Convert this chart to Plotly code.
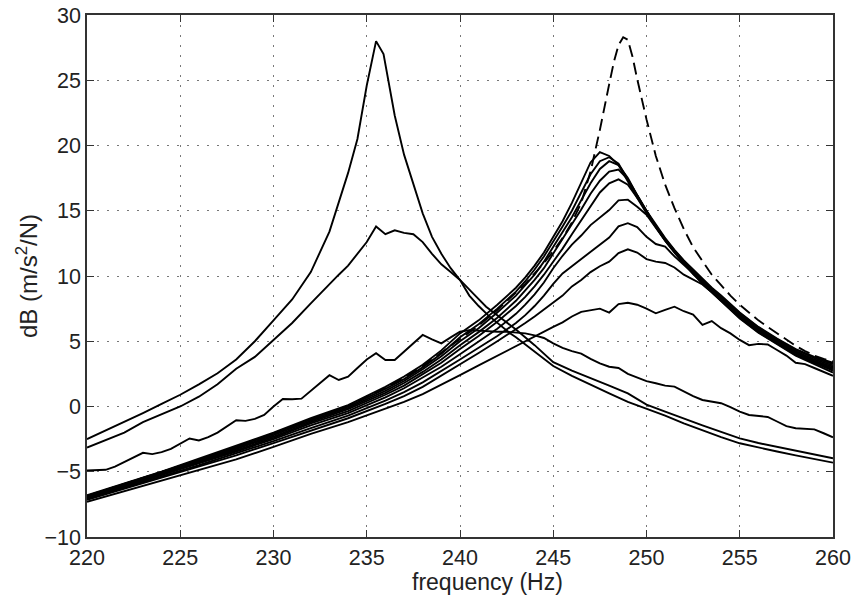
import plotly.graph_objects as go

# ---------------- data ----------------
# first resonance family (peak near 235.5 Hz)
freq_A1 = [220, 221, 222, 223, 224, 225, 226, 227, 228, 229, 230, 231, 232, 233, 234, 234.5, 235, 235.5, 235.9,
           236.5, 237, 237.5, 238, 238.5, 239, 239.5, 240, 240.5, 241, 241.5, 242, 242.7, 243, 244, 245, 246, 247,
           248, 249, 250, 251, 252, 253, 254, 255, 256, 257, 258, 259, 260]
db_A1 = [-2.5, -1.85, -1.2, -0.5, 0.2, 0.9, 1.7, 2.55, 3.6, 5.0, 6.6, 8.2, 10.3, 13.4, 17.9, 20.5, 24.6, 28.0, 27.0,
         22.3, 19.3, 17.0, 14.8, 13.0, 11.7, 10.6, 9.7, 8.5, 7.7, 7.0, 6.4, 5.6, 5.3, 4.2, 3.1, 2.35, 1.65,
         1.0, 0.35, -0.15, -0.7, -1.3, -1.85, -2.35, -2.82, -3.15, -3.45, -3.75, -4.05, -4.3]

freq_A2 = [220, 221, 222, 223, 224, 225, 226, 227, 228, 229, 230, 231, 232, 233, 233.5, 234, 234.5, 235, 235.5, 236,
           236.5, 237, 237.5, 238, 238.5, 239, 239.5, 240, 240.7, 241.4, 242, 243, 244, 245, 246, 247, 248, 249,
           250, 251, 252, 253, 254, 255, 256, 257, 258, 259, 260]
db_A2 = [-3.15, -2.6, -2.0, -1.2, -0.6, 0.0, 0.75, 1.7, 2.9, 3.8, 5.1, 6.4, 7.9, 9.4, 10.1, 10.8, 11.7, 12.6, 13.8, 13.2,
         13.5, 13.3, 13.2, 12.6, 11.7, 10.9, 10.3, 9.7, 8.67, 7.65, 7.0, 5.9, 4.7, 3.4, 2.75, 2.2, 1.6, 1.0,
         0.15, -0.4, -0.95, -1.45, -1.95, -2.44, -2.8, -3.1, -3.4, -3.7, -3.97]

freq_A3 = [220, 220.5, 221, 221.5, 222, 222.5, 223, 223.5, 224, 224.5, 225, 225.5, 226, 226.5, 227, 227.5, 228, 228.5,
           229, 229.5, 230, 230.5, 231, 231.5, 232, 232.5, 233, 233.5, 234, 234.5, 235, 235.5, 236, 236.5, 237, 237.5,
           238, 238.5, 239, 239.5, 240, 240.5, 241, 241.5, 242, 242.5, 243, 243.5, 244, 244.5, 245, 245.5, 246, 246.5,
           247, 247.5, 248, 248.5, 249, 249.5, 250, 250.5, 251, 251.5, 252, 252.5, 253, 253.5, 254, 254.5, 255, 255.5,
           256, 256.5, 257, 257.5, 258, 258.5, 259, 259.5, 260]
db_A3 = [-4.9, -4.9, -4.85, -4.6, -4.25, -3.9, -3.55, -3.65, -3.5, -3.25, -2.85, -2.45, -2.6, -2.35, -2.0, -1.55, -1.05, -1.1,
         -0.95, -0.65, 0.0, 0.57, 0.55, 0.6, 1.2, 1.8, 2.4, 2.03, 2.28, 2.95, 3.6, 4.08, 3.56, 3.56, 4.2, 4.9,
         5.48, 5.15, 4.84, 5.3, 5.73, 5.85, 5.8, 5.73, 5.73, 5.73, 5.65, 5.6, 5.45, 5.25, 4.84, 4.5, 4.25, 4.05,
         3.65, 3.3, 3.05, 2.95, 2.5, 2.2, 1.95, 1.78, 1.6, 1.52, 1.15, 0.8, 0.5, 0.4, 0.25, -0.05, -0.4, -0.65,
         -0.7, -0.8, -1.15, -1.5, -1.67, -1.72, -1.75, -2.05, -2.36]

# second resonance family (peaks 247.5 .. 249 Hz), common frequency grid
freq_B = [220, 222, 224, 226, 228, 230, 232, 234, 236, 237, 238, 239, 240, 241, 242, 243, 243.5, 244, 244.5, 245,
          245.5, 246, 246.5, 247, 247.5, 248, 248.5, 249, 249.5, 250, 250.5, 251, 251.5, 252, 252.5, 253, 253.5,
          254, 255, 256, 257, 258, 259, 260]
db_B1 = [-6.8, -5.9, -5.0, -4.0, -3.0, -2.0, -0.9, 0.1, 1.5, 2.3, 3.2, 4.3, 5.6, 6.6, 7.8, 9.1, 9.9, 10.8, 11.8, 13.0,
         14.2, 15.6, 17.1, 18.7, 19.5, 19.2, 18.5, 17.3, 16.0, 15.0, 13.9, 12.9, 12.0, 11.2, 10.5, 9.8, 9.1,
         8.5, 7.2, 6.1, 5.2, 4.4, 3.8, 3.35]
db_B2 = [-6.85, -5.95, -5.05, -4.1, -3.1, -2.1, -1.0, 0.0, 1.35, 2.1, 3.0, 4.05, 5.3, 6.3, 7.5, 8.8, 9.6, 10.5, 11.5, 12.6,
         13.8, 15.0, 16.4, 17.8, 18.8, 19.1, 18.6, 17.4, 16.1, 14.95, 13.85, 12.85, 11.95, 11.15, 10.4, 9.7, 9.05,
         8.45, 7.15, 6.05, 5.15, 4.35, 3.7, 3.25]
db_B3 = [-6.9, -6.0, -5.1, -4.15, -3.2, -2.2, -1.1, -0.1, 1.2, 1.95, 2.85, 3.85, 5.0, 6.0, 7.2, 8.5, 9.3, 10.1, 11.1, 12.2,
         13.3, 14.5, 15.8, 17.1, 18.2, 18.8, 18.5, 17.5, 16.2, 15.0, 13.8, 12.8, 11.9, 11.1, 10.3, 9.6, 8.95,
         8.35, 7.05, 5.95, 5.05, 4.25, 3.6, 3.15]
db_B4 = [-6.95, -6.05, -5.15, -4.2, -3.25, -2.3, -1.2, -0.2, 1.05, 1.8, 2.65, 3.6, 4.7, 5.7, 6.8, 8.1, 8.9, 9.7, 10.6, 11.7,
         12.8, 13.9, 15.1, 16.3, 17.3, 18.0, 18.15, 17.4, 16.2, 14.9, 13.75, 12.75, 11.85, 11.0, 10.25, 9.55, 8.9,
         8.3, 7.0, 5.9, 5.0, 4.15, 3.5, 3.05]
db_B5 = [-7.0, -6.1, -5.2, -4.3, -3.35, -2.4, -1.3, -0.35, 0.9, 1.6, 2.45, 3.35, 4.4, 5.4, 6.5, 7.7, 8.4, 9.2, 10.1, 11.1,
         12.1, 13.2, 14.3, 15.4, 16.4, 17.1, 17.4, 17.0, 16.0, 14.8, 13.7, 12.7, 11.8, 10.95, 10.2, 9.5, 8.85,
         8.25, 6.95, 5.85, 4.95, 4.1, 3.45, 2.95]
db_B6 = [-7.05, -6.15, -5.3, -4.4, -3.45, -2.5, -1.45, -0.5, 0.7, 1.4, 2.2, 3.05, 4.0, 4.95, 5.95, 7.1, 7.8, 8.6, 9.5, 10.6,
         11.55, 12.4, 13.1, 13.9, 14.5, 15.05, 15.8, 15.85, 15.3, 14.7, 13.7, 12.7, 11.8, 10.95, 10.15, 9.45, 8.8,
         8.2, 6.85, 5.75, 4.85, 4.0, 3.4, 2.85]
db_B7 = [-7.1, -6.2, -5.35, -4.5, -3.6, -2.65, -1.65, -0.7, 0.45, 1.1, 1.85, 2.7, 3.6, 4.5, 5.4, 6.4, 7.0, 7.7, 8.5, 9.4,
         10.2, 10.75, 11.3, 11.85, 12.4, 12.95, 13.8, 14.05, 13.75, 13.0, 12.45, 12.25, 11.5, 10.85, 10.2, 9.4, 8.75,
         8.15, 6.8, 5.7, 4.8, 3.95, 3.35, 2.75]
db_B8 = [-7.15, -6.3, -5.45, -4.6, -3.75, -2.8, -1.85, -0.9, 0.2, 0.8, 1.5, 2.35, 3.25, 4.1, 5.0, 5.9, 6.4, 6.9, 7.45, 8.0,
         8.5, 9.2, 9.7, 10.3, 10.75, 11.1, 11.75, 12.05, 11.8, 11.3, 11.1, 11.0, 10.65, 10.1, 9.75, 9.35, 8.75,
         8.1, 6.75, 5.65, 4.75, 3.9, 3.25, 2.6]

freq_B9 = [220, 222, 224, 226, 228, 230, 232, 234, 236, 237, 238, 239, 240, 241, 242, 243, 244, 245, 245.5, 246, 246.5,
           247, 247.5, 248, 248.5, 249, 249.5, 250, 250.5, 251, 251.5, 252, 252.5, 253, 253.5, 254, 254.5, 255,
           255.5, 256, 256.5, 257, 257.5, 258, 258.5, 259, 259.5, 260]
db_B9 = [-7.3, -6.5, -5.7, -4.9, -4.05, -3.1, -2.1, -1.2, -0.2, 0.35, 0.95, 1.65, 2.4, 3.15, 3.9, 4.6, 5.4, 6.1, 6.45, 6.9,
         7.25, 7.4, 7.5, 7.2, 7.85, 7.95, 7.8, 7.5, 7.14, 7.4, 7.65, 7.3, 7.05, 6.25, 6.55, 6.0, 5.6, 5.1,
         4.7, 4.8, 4.75, 4.33, 3.9, 3.35, 3.25, 2.95, 2.65, 2.35]

# dashed reference curve (sharp peak near 248.8 Hz)
freq_D = [220, 222, 224, 226, 228, 230, 232, 234, 236, 237, 238, 239, 240, 241, 242, 243, 243.5, 244, 244.5, 245, 245.5,
          246, 246.5, 247, 247.5, 248, 248.25, 248.5, 248.75, 249, 249.25, 249.5, 250, 250.5, 251, 251.5, 252,
          252.5, 253, 253.5, 254, 254.5, 255, 255.5, 256, 256.5, 257, 257.5, 258, 258.5, 259, 259.5, 260]
db_D = [-6.85, -5.95, -5.05, -4.1, -3.1, -2.05, -0.95, 0.05, 1.4, 2.2, 3.1, 4.15, 5.2, 6.2, 7.4, 8.7, 9.4, 10.2, 11.0,
        11.9, 12.9, 14.1, 15.6, 18.0, 21.2, 24.7, 26.4, 27.7, 28.3, 28.1, 26.8, 25.1, 22.0, 19.2, 17.0, 15.2, 13.6,
        12.2, 11.1, 10.1, 9.3, 8.5, 7.8, 7.2, 6.6, 6.1, 5.6, 5.1, 4.65, 4.25, 3.9, 3.65, 3.45]

x_ticks = [220, 225, 230, 235, 240, 245, 250, 255, 260]
y_ticks = [-10, -5, 0, 5, 10, 15, 20, 25, 30]
x_label = "frequency (Hz)"
y_label = "dB (m/s<sup>2</sup>/N)"

# ---------------- figure ----------------
# axes box at x 87..833, y 15..537 of the 856x603 window
W, H = 856, 603
ML, MR, MT, MB = 87, 23, 15, 66

fig = go.Figure()
solid = [(freq_A1, db_A1), (freq_A2, db_A2), (freq_A3, db_A3),
         (freq_B, db_B1), (freq_B, db_B2), (freq_B, db_B3), (freq_B, db_B4),
         (freq_B, db_B5), (freq_B, db_B6), (freq_B, db_B7), (freq_B, db_B8),
         (freq_B9, db_B9)]
for fx, fy in solid:
    fig.add_trace(go.Scatter(x=fx, y=fy, mode="lines",
                             line=dict(color="black", width=1.9), hoverinfo="skip"))
fig.add_trace(go.Scatter(x=freq_D, y=db_D, mode="lines",
                         line=dict(color="black", width=1.9, dash="12px,6px"), hoverinfo="skip"))

tick_font = dict(size=21.5, color="#222222")
axis_common = dict(
    showline=True, linecolor="#333333", linewidth=1.6, mirror="ticks",
    ticks="inside", ticklen=7, tickwidth=1.3, tickcolor="#333333",
    showgrid=True, gridcolor="#777777", gridwidth=1, griddash="1.5px,8.5px",
    zeroline=False, tickfont=tick_font, automargin=False, ticklabeloverflow="allow",
)
fig.update_xaxes(range=[220, 260], tickvals=x_ticks, ticktext=[str(v) for v in x_ticks], **axis_common)
fig.update_yaxes(range=[-10, 30], tickvals=y_ticks, **axis_common)

plot_w = W - ML - MR
plot_h = H - MT - MB
# title centres in window pixels
xt_cx, xt_cy = 487, 582
yt_cx, yt_cy = 27, 276
fig.update_layout(
    width=W, height=H,
    margin=dict(l=ML, r=MR, t=MT, b=MB),
    plot_bgcolor="white", paper_bgcolor="white",
    showlegend=False,
    font=dict(family="Liberation Sans, Arial, Helvetica, sans-serif", size=21.5, color="#222222"),
    annotations=[
        dict(text=x_label, xref="paper", yref="paper",
             x=(xt_cx - ML) / plot_w, y=1 - (xt_cy - MT) / plot_h,
             xanchor="center", yanchor="middle", showarrow=False,
             font=dict(size=23, color="#222222")),
        dict(text=y_label, xref="paper", yref="paper",
             x=(yt_cx - ML) / plot_w, y=1 - (yt_cy - MT) / plot_h, textangle=-90,
             xanchor="center", yanchor="middle", showarrow=False,
             font=dict(size=24, color="#222222")),
    ],
)
# remove the page's default body margin so the figure fills the window exactly
fig.write_html("out.html", config={"displayModeBar": False},
               post_script="document.body.style.margin='0px';")
